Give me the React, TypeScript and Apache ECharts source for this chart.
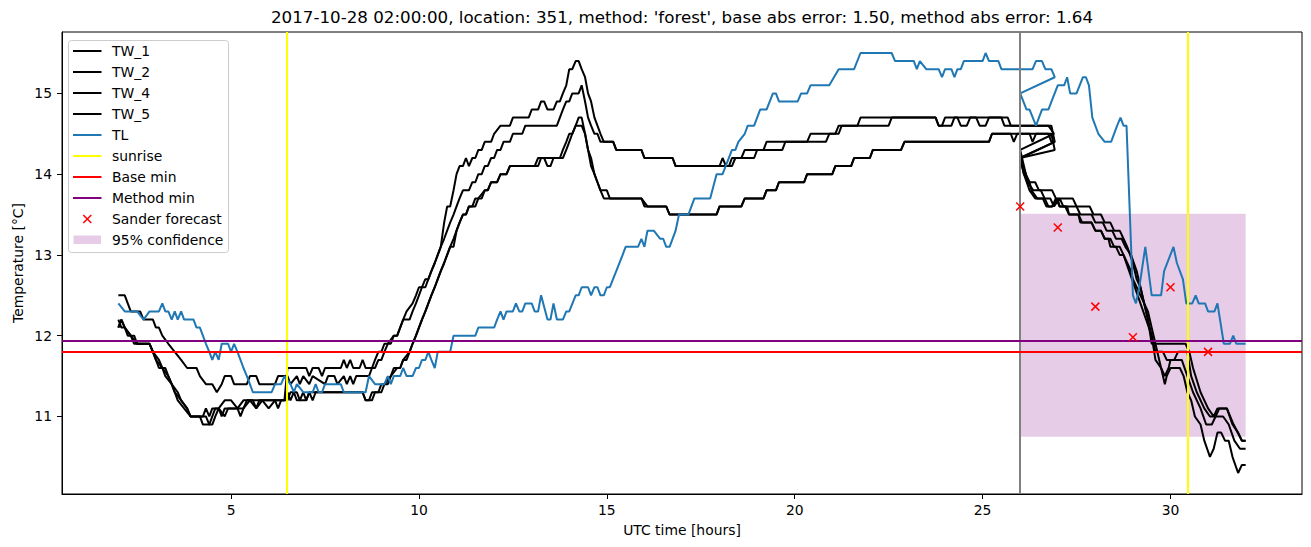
import React, { useEffect, useRef } from "react";
import * as echarts from "echarts";

const TITLE =
  "2017-10-28 02:00:00, location: 351, method: 'forest', base abs error: 1.50, method abs error: 1.64";
const X_TICKS = [5, 10, 15, 20, 25, 30];
const Y_TICKS = [11, 12, 13, 14, 15];
const SUNRISE = [6.48, 30.47];
const FORECAST_START = [26];
const BASE_MIN = [11.8];
const METHOD_MIN = [11.94];
const SANDER_X = [26, 27, 28, 29, 30, 31];
const SANDER_Y = [13.6, 13.34, 12.36, 11.98, 12.6, 11.8];
const CONF_X = [26, 32];
const CONF_Y = [10.75, 13.51];

const TW_1: number[][] = [
  [2.0,12.1],[2.08,12.2],[2.17,12.1],[2.33,12.0],[2.5,11.9],[2.83,11.9],[2.92,11.8],[3.0,11.7],[3.08,11.6],[3.25,11.6],[3.33,11.5],[3.42,11.4],[3.5,11.3],[3.67,11.2],[3.83,11.1],[3.92,11.0],[4.25,11.0],[4.33,11.1],[4.42,11.0],[4.5,11.1],[4.67,11.1],[4.83,11.2],[5.0,11.2],[5.17,11.1],[5.33,11.2],[5.5,11.2],[5.67,11.1],[5.83,11.2],[6.42,11.2],[6.5,11.6],[7.0,11.6],[7.08,11.5],[7.17,11.6],[7.33,11.6],[7.42,11.5],[7.5,11.6],[7.92,11.6],[8.0,11.7],[8.08,11.6],[8.17,11.7],[8.25,11.6],[8.42,11.6],[8.5,11.7],[8.58,11.6],[8.75,11.6],[8.83,11.7],[8.92,11.8],[9.0,11.8],[9.08,11.9],[9.25,11.9],[9.33,12.0],[9.42,12.0],[9.5,12.1],[9.58,12.2],[9.75,12.2],[9.83,12.3],[9.92,12.4],[10.0,12.5],[10.08,12.6],[10.17,12.7],[10.25,12.7],[10.33,12.8],[10.42,12.9],[10.5,13.0],[10.58,13.1],[10.67,13.4],[10.75,13.6],[10.83,13.6],[10.92,13.8],[11.0,14.0],[11.08,14.1],[11.17,14.1],[11.25,14.2],[11.33,14.1],[11.42,14.2],[11.5,14.2],[11.58,14.3],[11.67,14.3],[11.75,14.4],[11.92,14.4],[12.0,14.5],[12.17,14.6],[12.42,14.6],[12.5,14.7],[12.92,14.7],[13.0,14.8],[13.17,14.8],[13.25,14.9],[13.33,14.9],[13.42,14.8],[13.58,14.8],[13.67,14.9],[13.75,14.9],[13.83,15.0],[13.92,15.1],[14.0,15.3],[14.08,15.3],[14.17,15.4],[14.25,15.4],[14.33,15.3],[14.42,15.2],[14.5,15.0],[14.58,14.9],[14.67,14.7],[14.75,14.6],[14.83,14.5],[14.92,14.4],[15.17,14.4],[15.25,14.3],[15.92,14.3],[16.0,14.2],[16.75,14.2],[16.83,14.1],[18.0,14.1],[18.08,14.2],[18.17,14.1],[18.25,14.1],[18.33,14.2],[18.58,14.2],[18.67,14.3],[19.17,14.3],[19.25,14.4],[20.33,14.4],[20.42,14.5],[21.08,14.5],[21.17,14.6],[21.67,14.6],[21.75,14.7],[23.75,14.7],[23.83,14.6],[24.17,14.6],[24.25,14.7],[25.67,14.7],[25.75,14.6],[26.83,14.6],[26.92,14.4],
  [26.0,14.2],[26.1,14.0],[26.25,13.9],[26.4,13.9],[26.5,13.8],[26.85,13.8],[26.95,13.7],[27.4,13.7],[27.5,13.6],[27.85,13.6],[27.95,13.5],[28.15,13.5],[28.25,13.4],[28.4,13.4],[28.5,13.3],[28.65,13.3],[28.75,13.2],[28.85,13.1],[29.0,12.9],[29.1,12.7],[29.2,12.6],[29.3,12.4],[29.4,12.2],[29.5,11.9],[30.4,11.9],[30.5,11.8],[30.6,11.6],[30.8,11.3],[31.0,11.1],[31.15,11.0],[31.25,11.1],[31.5,11.1],[31.68,10.9],[31.9,10.7],[32.0,10.7]
];

const TW_2: number[][] = [
  [2.0,12.5],[2.17,12.5],[2.25,12.4],[2.33,12.3],[2.58,12.3],[2.67,12.2],[2.92,12.2],[3.0,12.1],[3.08,12.1],[3.17,12.0],[3.33,11.9],[3.5,11.8],[3.67,11.7],[3.83,11.6],[4.08,11.6],[4.17,11.5],[4.33,11.4],[4.5,11.4],[4.62,11.3],[4.75,11.4],[4.83,11.5],[5.0,11.5],[5.08,11.4],[5.42,11.4],[5.5,11.5],[5.67,11.5],[5.75,11.4],[6.17,11.4],[6.25,11.5],[6.5,11.5],[6.58,11.4],[6.75,11.5],[6.83,11.4],[6.92,11.5],[7.08,11.4],[7.17,11.5],[7.5,11.4],[7.58,11.5],[7.75,11.5],[7.83,11.4],[8.0,11.5],[8.08,11.4],[8.17,11.5],[8.25,11.4],[8.33,11.5],[8.67,11.5],[8.75,11.6],[8.83,11.6],[8.92,11.7],[9.0,11.7],[9.08,11.8],[9.17,11.9],[9.33,12.0],[9.42,12.0],[9.5,12.1],[9.58,12.2],[9.67,12.3],[9.83,12.4],[9.92,12.5],[10.0,12.6],[10.17,12.6],[10.25,12.7],[10.33,12.8],[10.42,12.9],[10.5,13.0],[10.58,13.1],[10.67,13.2],[10.75,13.3],[10.83,13.4],[10.92,13.5],[11.0,13.6],[11.08,13.7],[11.17,13.8],[11.33,13.8],[11.42,13.9],[11.5,13.9],[11.58,14.0],[11.67,14.0],[11.75,14.1],[11.83,14.1],[11.92,14.2],[12.0,14.2],[12.08,14.3],[12.17,14.3],[12.25,14.4],[12.42,14.4],[12.5,14.5],[12.75,14.5],[12.83,14.6],[13.67,14.6],[13.75,14.7],[13.83,14.8],[13.92,14.9],[14.0,14.9],[14.08,15.0],[14.25,15.0],[14.33,15.1],[14.42,14.9],[14.5,14.7],[14.58,14.6],[14.67,14.5],[14.75,14.5],[14.83,14.4],[15.17,14.4],[15.25,14.3],[15.92,14.3],[16.0,14.2],[16.75,14.2],[16.83,14.1],[18.33,14.1],[18.42,14.2],[18.92,14.2],[19.0,14.3],[19.67,14.3],[19.75,14.4],[20.83,14.4],[20.92,14.5],[21.17,14.5],[21.25,14.6],[22.5,14.6],[22.58,14.7],[23.75,14.7],[23.83,14.6],[23.92,14.6],[24.0,14.7],[24.33,14.7],[24.42,14.6],[24.58,14.6],[24.67,14.7],[24.83,14.7],[24.92,14.6],[25.08,14.6],[25.17,14.7],[25.5,14.7],[25.58,14.6],[26.75,14.6],[26.9,14.5],
  [26.0,14.3],[26.1,14.1],[26.2,13.9],[26.35,13.8],[26.55,13.8],[26.65,13.7],[26.8,13.7],[26.9,13.6],[27.05,13.7],[27.15,13.6],[27.5,13.6],[27.6,13.5],[27.9,13.5],[28.0,13.4],[28.2,13.4],[28.3,13.3],[28.45,13.3],[28.55,13.2],[28.7,13.2],[28.8,13.1],[28.95,13.0],[29.1,12.8],[29.2,12.6],[29.35,12.3],[29.5,12.0],[29.6,11.8],[29.8,11.8],[29.9,11.7],[30.1,11.7],[30.2,11.8],[30.45,11.8],[30.55,11.5],[30.7,11.3],[30.9,11.1],[31.05,11.0],[31.2,11.0],[31.3,11.1],[31.5,11.1],[31.65,10.9],[31.8,10.8],[31.9,10.7],[32.0,10.7]
];

const TW_4: number[][] = [
  [2.0,12.2],[2.08,12.1],[2.17,12.1],[2.25,12.0],[2.42,12.0],[2.5,11.9],[2.83,11.9],[2.92,11.8],[3.0,11.7],[3.17,11.6],[3.25,11.5],[3.42,11.4],[3.5,11.3],[3.58,11.2],[3.75,11.1],[3.92,11.0],[4.17,11.0],[4.25,10.9],[4.42,10.9],[4.5,11.0],[4.58,11.1],[4.67,11.1],[4.75,11.0],[4.83,11.1],[5.17,11.1],[5.25,11.0],[5.33,11.1],[5.5,11.2],[5.83,11.2],[6.0,11.1],[6.17,11.2],[6.42,11.2],[6.5,11.3],[6.58,11.2],[6.67,11.3],[6.75,11.2],[6.83,11.2],[6.92,11.3],[7.0,11.2],[7.08,11.3],[8.5,11.3],[8.58,11.2],[8.67,11.2],[8.75,11.3],[8.92,11.3],[9.0,11.4],[9.17,11.4],[9.25,11.5],[9.33,11.6],[9.5,11.6],[9.58,11.7],[9.67,11.7],[9.75,11.8],[9.83,11.9],[9.92,12.0],[10.0,12.1],[10.08,12.2],[10.17,12.3],[10.25,12.4],[10.33,12.5],[10.42,12.6],[10.5,12.7],[10.58,12.8],[10.67,12.9],[10.75,13.0],[10.83,13.1],[10.92,13.1],[11.0,13.3],[11.08,13.4],[11.17,13.5],[11.25,13.5],[11.33,13.6],[11.42,13.6],[11.5,13.7],[11.67,13.7],[11.75,13.8],[11.83,13.8],[11.92,13.9],[12.08,13.9],[12.17,14.0],[12.33,14.0],[12.42,14.1],[13.08,14.1],[13.17,14.2],[13.33,14.2],[13.42,14.1],[13.5,14.1],[13.58,14.2],[13.75,14.2],[13.83,14.3],[13.92,14.4],[14.0,14.5],[14.08,14.5],[14.17,14.6],[14.25,14.7],[14.33,14.7],[14.42,14.5],[14.5,14.3],[14.58,14.2],[14.67,14.0],[14.75,13.9],[14.83,13.8],[15.0,13.8],[15.08,13.7],[15.92,13.7],[16.0,13.6],[16.58,13.6],[16.67,13.5],[17.92,13.5],[18.0,13.6],[18.58,13.6],[18.67,13.7],[19.17,13.7],[19.25,13.8],[19.5,13.8],[19.58,13.9],[20.25,13.9],[20.33,14.0],[21.0,14.0],[21.08,14.1],[21.5,14.1],[21.58,14.2],[22.0,14.2],[22.08,14.3],[22.83,14.3],[22.92,14.4],[25.17,14.4],[25.25,14.5],[25.75,14.5],[25.83,14.4],[25.92,14.5],[26.25,14.5],[26.33,14.4],[26.42,14.5],[26.83,14.5],[26.92,14.3],
  [26.0,14.2],[26.1,14.0],[26.25,13.8],[26.4,13.7],[26.6,13.7],[26.7,13.6],[26.85,13.6],[26.95,13.7],[27.05,13.6],[27.25,13.6],[27.3,13.5],[27.55,13.5],[27.65,13.4],[27.9,13.4],[28.0,13.3],[28.15,13.3],[28.25,13.2],[28.4,13.2],[28.5,13.1],[28.65,13.1],[28.75,13.0],[28.9,12.8],[29.05,12.6],[29.2,12.4],[29.35,12.2],[29.5,12.0],[29.6,11.7],[29.75,11.6],[29.85,11.5],[29.95,11.6],[30.0,11.7],[30.3,11.7],[30.45,11.5],[30.6,11.3],[30.8,11.1],[30.95,10.9],[31.1,10.9],[31.2,11.0],[31.4,11.0],[31.55,10.9],[31.7,10.7],[31.85,10.6],[32.0,10.6]
];

const TW_5: number[][] = [
  [2.0,12.1],[2.08,12.2],[2.17,12.1],[2.33,12.0],[2.42,11.9],[2.83,11.9],[2.92,11.8],[3.08,11.7],[3.17,11.6],[3.33,11.5],[3.42,11.4],[3.58,11.3],[3.67,11.2],[3.83,11.1],[3.92,11.0],[4.33,11.0],[4.42,10.9],[4.5,10.9],[4.58,11.0],[4.67,11.1],[4.83,11.0],[4.92,11.1],[5.33,11.1],[5.42,11.2],[5.58,11.2],[5.67,11.1],[5.75,11.2],[6.17,11.2],[6.25,11.1],[6.33,11.2],[6.5,11.2],[6.58,11.3],[6.75,11.3],[6.83,11.2],[7.0,11.2],[7.08,11.3],[7.17,11.2],[7.25,11.3],[8.5,11.3],[8.58,11.2],[8.75,11.2],[8.83,11.3],[9.0,11.3],[9.08,11.4],[9.25,11.5],[9.42,11.6],[9.5,11.6],[9.58,11.7],[9.75,11.8],[9.83,11.9],[9.92,12.0],[10.0,12.1],[10.08,12.2],[10.17,12.3],[10.25,12.4],[10.33,12.5],[10.42,12.6],[10.5,12.7],[10.58,12.8],[10.67,12.9],[10.75,13.0],[10.83,13.1],[10.92,13.2],[11.0,13.3],[11.08,13.4],[11.17,13.5],[11.25,13.5],[11.33,13.6],[11.5,13.6],[11.58,13.7],[11.75,13.8],[11.83,13.8],[11.92,13.9],[12.08,13.9],[12.17,14.0],[12.33,14.0],[12.42,14.1],[13.17,14.1],[13.25,14.2],[13.83,14.2],[13.92,14.3],[14.0,14.4],[14.08,14.5],[14.17,14.6],[14.33,14.6],[14.42,14.5],[14.5,14.3],[14.58,14.1],[14.67,14.0],[14.75,13.9],[14.83,13.8],[14.92,13.7],[15.92,13.7],[16.08,13.6],[16.58,13.6],[16.67,13.5],[17.92,13.5],[18.0,13.6],[18.58,13.6],[18.67,13.7],[19.17,13.7],[19.25,13.8],[19.5,13.8],[19.58,13.9],[20.25,13.9],[20.33,14.0],[21.0,14.0],[21.08,14.1],[21.5,14.1],[21.58,14.2],[22.0,14.2],[22.08,14.3],[22.83,14.3],[22.92,14.4],[25.17,14.4],[25.25,14.5],[26.75,14.5],[26.83,14.4],[26.92,14.4],
  [26.0,14.2],[26.15,14.0],[26.25,13.9],[26.3,13.8],[26.45,13.7],[26.65,13.7],[26.75,13.6],[26.85,13.6],[27.0,13.7],[27.05,13.6],[27.2,13.6],[27.3,13.5],[27.55,13.5],[27.6,13.4],[27.9,13.4],[28.0,13.3],[28.15,13.3],[28.25,13.2],[28.35,13.2],[28.4,13.1],[28.55,13.1],[28.65,13.0],[28.75,13.0],[28.85,12.9],[28.95,12.8],[29.0,12.7],[29.1,12.6],[29.2,12.5],[29.3,12.4],[29.4,12.3],[29.5,12.1],[29.6,11.9],[29.7,11.7],[29.8,11.5],[29.85,11.4],[29.9,11.5],[30.0,11.6],[30.25,11.6],[30.35,11.5],[30.45,11.3],[30.55,11.2],[30.65,11.0],[30.8,10.9],[30.9,10.7],[31.05,10.5],[31.15,10.6],[31.25,10.8],[31.35,10.8],[31.45,10.7],[31.55,10.7],[31.65,10.5],[31.8,10.3],[31.9,10.4],[32.0,10.4]
];

const TL: number[][] = [
  [2.0,12.4],[2.17,12.3],[2.5,12.3],[2.67,12.2],[2.83,12.3],[3.08,12.3],[3.17,12.4],[3.25,12.3],[3.33,12.3],[3.42,12.2],[3.5,12.3],[3.58,12.2],[3.67,12.3],[3.75,12.2],[4.0,12.2],[4.08,12.1],[4.17,12.1],[4.25,12.0],[4.33,11.9],[4.42,11.8],[4.5,11.7],[4.58,11.8],[4.67,11.7],[4.75,11.9],[4.92,11.9],[5.0,11.8],[5.08,11.9],[5.17,11.8],[5.25,11.7],[5.33,11.6],[5.42,11.5],[5.5,11.4],[5.58,11.3],[6.08,11.3],[6.17,11.4],[6.33,11.4],[6.42,11.5],[6.58,11.4],[6.67,11.3],[6.75,11.4],[6.92,11.3],[7.17,11.3],[7.25,11.4],[7.33,11.3],[7.42,11.3],[7.5,11.4],[7.92,11.4],[8.0,11.3],[8.58,11.3],[8.67,11.5],[8.83,11.4],[9.08,11.4],[9.17,11.5],[9.25,11.4],[9.33,11.5],[9.5,11.5],[9.58,11.6],[9.67,11.5],[9.83,11.5],[9.92,11.6],[10.0,11.6],[10.08,11.7],[10.17,11.7],[10.25,11.8],[10.33,11.7],[10.42,11.6],[10.5,11.8],[10.83,11.8],[10.92,12.0],[11.5,12.0],[11.58,12.1],[12.0,12.1],[12.08,12.2],[12.17,12.3],[12.25,12.2],[12.33,12.3],[12.5,12.3],[12.58,12.4],[12.67,12.3],[12.75,12.3],[12.83,12.4],[13.0,12.4],[13.08,12.3],[13.17,12.3],[13.25,12.5],[13.42,12.2],[13.5,12.2],[13.58,12.4],[13.67,12.2],[13.83,12.2],[13.92,12.3],[14.0,12.3],[14.17,12.5],[14.25,12.5],[14.33,12.6],[14.5,12.6],[14.58,12.5],[14.67,12.6],[14.75,12.6],[14.83,12.5],[14.92,12.5],[15.0,12.6],[15.08,12.6],[15.25,12.8],[15.42,13.0],[15.5,13.1],[15.83,13.1],[15.92,13.2],[16.0,13.1],[16.08,13.3],[16.25,13.3],[16.42,13.2],[16.5,13.2],[16.58,13.1],[16.67,13.1],[16.83,13.3],[16.92,13.5],[17.17,13.5],[17.33,13.7],[17.75,13.7],[17.92,14.0],[18.08,14.0],[18.33,14.3],[18.42,14.3],[18.5,14.4],[18.67,14.5],[18.75,14.6],[18.92,14.6],[19.08,14.8],[19.25,14.8],[19.42,15.0],[19.5,15.0],[19.58,14.9],[20.08,14.9],[20.17,15.0],[20.33,15.0],[20.42,15.1],[20.92,15.1],[21.17,15.3],[21.58,15.3],[21.75,15.5],[22.58,15.5],[22.67,15.4],[23.17,15.4],[23.25,15.3],[23.33,15.4],[23.5,15.3],[23.83,15.3],[23.92,15.2],[24.0,15.3],[24.17,15.3],[24.25,15.2],[24.33,15.3],[24.42,15.3],[24.5,15.4],[25.0,15.4],[25.08,15.5],[25.17,15.4],[25.42,15.4],[25.5,15.3],[26.33,15.3],[26.42,15.4],[26.58,15.4],[26.67,15.3],[26.83,15.3],[26.92,15.2],
  [26.0,15.0],[26.17,14.8],[26.25,14.8],[26.42,14.6],[26.58,14.8],[26.75,14.8],[27.0,15.1],[27.17,15.1],[27.25,15.2],[27.33,15.0],[27.5,15.0],[27.67,15.2],[27.75,15.2],[27.83,15.1],[27.92,14.7],[28.08,14.5],[28.25,14.4],[28.42,14.4],[28.58,14.6],[28.67,14.7],[28.75,14.6],[28.83,14.6],[29.0,12.5],[29.08,12.4],[29.17,12.6],[29.33,13.1],[29.5,12.5],[29.75,12.5],[29.83,12.8],[30.08,13.1],[30.17,12.9],[30.33,12.7],[30.42,12.4],[30.58,12.4],[30.67,12.5],[30.75,12.4],[30.92,12.4],[31.0,12.3],[31.17,12.3],[31.25,12.4],[31.42,11.9],[31.58,11.9],[31.67,12.0],[31.75,11.9],[32.0,11.9]
];

const LEGEND_LABELS = ["TW_1", "TW_2", "TW_4", "TW_5", "TL", "sunrise", "Base min", "Method min", "Sander forecast", "95% confidence"];
const LEGEND_COLORS = ["#000000", "#000000", "#000000", "#000000", "#1f77b4", "#ffff00", "#ff0000", "#800080", "#ff0000", "rgba(128,0,128,0.2)"];

const FONT = "DejaVu Sans";

function buildLegend() {
  const els: any[] = [];
  els.push({
    type: "rect",
    shape: { x: 68.5, y: 40.5, width: 160, height: 212, r: 3 },
    style: { fill: "rgba(255,255,255,0.8)", stroke: "#cccccc", lineWidth: 1 },
    z: 100,
  });
  LEGEND_LABELS.forEach((label, i) => {
    const y = 51 + 21 * i;
    if (i <= 7) {
      els.push({
        type: "line",
        shape: { x1: 73, y1: y, x2: 101.5, y2: y },
        style: { stroke: LEGEND_COLORS[i], lineWidth: 2 },
        z: 101,
      });
    } else if (i === 8) {
      const cx = 87.3, s = 4;
      els.push({ type: "line", shape: { x1: cx - s, y1: y - s, x2: cx + s, y2: y + s }, style: { stroke: "#ff0000", lineWidth: 1.5 }, z: 101 });
      els.push({ type: "line", shape: { x1: cx - s, y1: y + s, x2: cx + s, y2: y - s }, style: { stroke: "#ff0000", lineWidth: 1.5 }, z: 101 });
    } else {
      els.push({
        type: "rect",
        shape: { x: 73.5, y: y - 4.5, width: 27.5, height: 8.5 },
        style: { fill: LEGEND_COLORS[i] },
        z: 101,
      });
    }
    els.push({
      type: "text",
      x: 112,
      y: y,
      style: { text: label, fill: "#000", font: `13.9px "${FONT}"`, textAlign: "left", textVerticalAlign: "middle", align: "left", verticalAlign: "middle" },
      z: 101,
    });
  });
  return els;
}

const lineSeries = (name: string, data: number[][], color: string, z: number) => ({
  name,
  type: "line",
  data,
  showSymbol: false,
  symbol: "none",
  silent: true,
  z,
  lineStyle: { color, width: 2 },
  itemStyle: { color },
  emphasis: { disabled: true },
});

export default function App() {
  const ref = useRef<HTMLDivElement>(null);
  useEffect(() => {
    if (!ref.current) return;
    const chart = echarts.init(ref.current, undefined, { renderer: "svg" });
    const option: any = {
      animation: false,
      textStyle: { fontFamily: FONT },
      grid: { left: 62, top: 32, width: 1240, height: 462, show: true, borderColor: "#000", borderWidth: 1, backgroundColor: "transparent" },
      xAxis: {
        type: "value",
        min: 0.5,
        max: 33.5,
        axisLine: { show: true, onZero: false, lineStyle: { color: "#000", width: 1 } },
        axisTick: { show: true, length: 5, inside: false, customValues: X_TICKS, lineStyle: { color: "#000", width: 1 } },
        axisLabel: { customValues: X_TICKS, color: "#000", fontSize: 13.9, fontFamily: FONT, margin: 9 },
        splitLine: { show: false },
      },
      yAxis: {
        type: "value",
        min: 10.04,
        max: 15.76,
        axisLine: { show: true, onZero: false, lineStyle: { color: "#000", width: 1 } },
        axisTick: { show: true, length: 5, inside: false, customValues: Y_TICKS, lineStyle: { color: "#000", width: 1 } },
        axisLabel: { customValues: Y_TICKS, color: "#000", fontSize: 13.9, fontFamily: FONT, margin: 10 },
        splitLine: { show: false },
      },
      graphic: [
        {
          type: "text",
          x: 682,
          y: 17,
          style: { text: TITLE, fill: "#000", font: `16.7px "${FONT}"`, align: "center", verticalAlign: "middle" },
        },
        {
          type: "text",
          x: 682,
          y: 530,
          style: { text: "UTC time [hours]", fill: "#000", font: `13.9px "${FONT}"`, align: "center", verticalAlign: "middle" },
        },
        {
          type: "text",
          x: 18,
          y: 263,
          rotation: Math.PI / 2,
          style: { text: "Temperature [°C]", fill: "#000", font: `13.9px "${FONT}"`, align: "center", verticalAlign: "middle" },
        },
        ...buildLegend(),
      ],
      series: [
        {
          name: "95% confidence",
          type: "line",
          data: [],
          silent: true,
          z: 1,
          markArea: {
            silent: true,
            itemStyle: { color: "rgba(128,0,128,0.2)" },
            label: { show: false },
            data: [[{ xAxis: CONF_X[0], yAxis: CONF_Y[1] }, { xAxis: CONF_X[1], yAxis: CONF_Y[0] }]],
          },
        },
        lineSeries("TW_1", TW_1, "#000000", 2),
        lineSeries("TW_2", TW_2, "#000000", 2),
        lineSeries("TW_4", TW_4, "#000000", 2),
        lineSeries("TW_5", TW_5, "#000000", 2),
        lineSeries("TL", TL, "#1f77b4", 3),
        {
          name: "sunrise",
          type: "line",
          data: [],
          silent: true,
          z: 4,
          markLine: {
            silent: true,
            symbol: ["none", "none"],
            label: { show: false },
            lineStyle: { type: "solid", color: "#ffff00", width: 2 },
            data: [
              ...SUNRISE.map((x) => ({ xAxis: x })),
            ],
          },
        },
        {
          name: "forecast start",
          type: "line",
          data: [],
          silent: true,
          z: 4,
          markLine: {
            silent: true,
            symbol: ["none", "none"],
            label: { show: false },
            lineStyle: { type: "solid", color: "#808080", width: 2 },
            data: FORECAST_START.map((x) => ({ xAxis: x })),
          },
        },
        {
          name: "Base min",
          type: "line",
          data: [],
          silent: true,
          z: 4,
          markLine: {
            silent: true,
            symbol: ["none", "none"],
            label: { show: false },
            lineStyle: { type: "solid", color: "#ff0000", width: 2 },
            data: BASE_MIN.map((y) => ({ yAxis: y })),
          },
        },
        {
          name: "Method min",
          type: "line",
          data: [],
          silent: true,
          z: 4,
          markLine: {
            silent: true,
            symbol: ["none", "none"],
            label: { show: false },
            lineStyle: { type: "solid", color: "#800080", width: 2 },
            data: METHOD_MIN.map((y) => ({ yAxis: y })),
          },
        },
        {
          name: "Sander forecast",
          type: "custom",
          silent: true,
          z: 5,
          data: SANDER_X.map((x, i) => [x, SANDER_Y[i]]),
          renderItem: (params: any, api: any) => {
            const p = api.coord([api.value(0), api.value(1)]);
            const s = 4;
            return {
              type: "group",
              children: [
                { type: "line", shape: { x1: p[0] - s, y1: p[1] - s, x2: p[0] + s, y2: p[1] + s }, style: { stroke: "#ff0000", lineWidth: 1.5 } },
                { type: "line", shape: { x1: p[0] - s, y1: p[1] + s, x2: p[0] + s, y2: p[1] - s }, style: { stroke: "#ff0000", lineWidth: 1.5 } },
              ],
            };
          },
        },
      ],
    };
    chart.setOption(option);
    return () => chart.dispose();
  }, []);
  return <div ref={ref} style={{ position: "absolute", left: 0, top: 0, width: 1311, height: 547 }} />;
}
